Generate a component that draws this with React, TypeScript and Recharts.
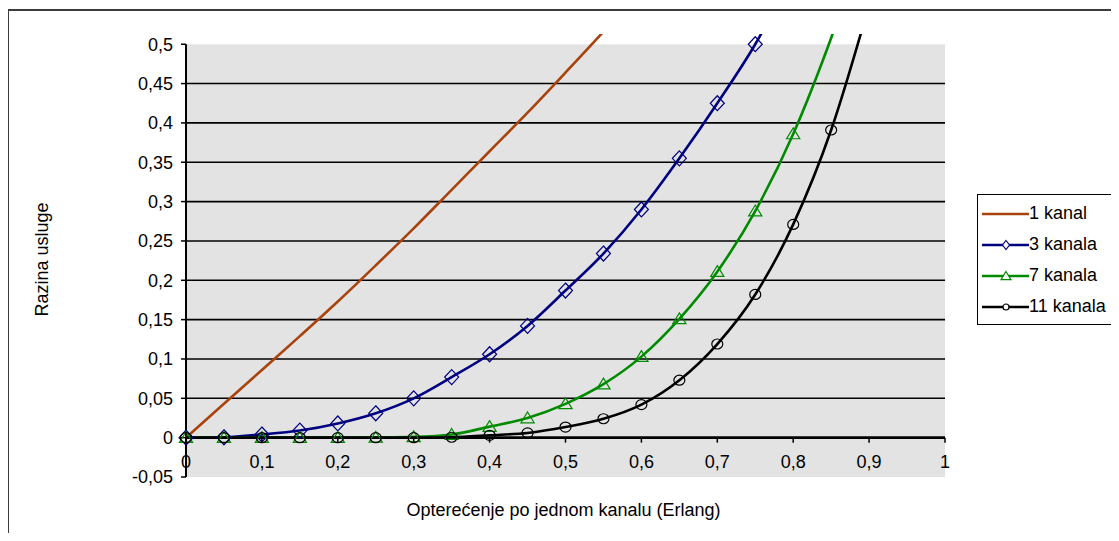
import React from "react";
import { LineChart, Line, XAxis, YAxis, ReferenceArea, ReferenceLine, Legend } from "recharts";

// opterecenje po kanalu (Erlang)
const LOAD = [0, 0.05, 0.1, 0.15, 0.2, 0.25, 0.3, 0.35, 0.4, 0.45, 0.5, 0.55, 0.6, 0.65, 0.7, 0.75, 0.8, 0.85, 0.9, 0.95, 1];

// razina usluge, ocitano sa slike (null = izvan grafa)
const KANAL_1 = [0, 0.043, 0.086, 0.129, 0.173, 0.219, 0.266, 0.315, 0.364, 0.413, 0.464, 0.516, 0.57, null, null, null, null, null, null, null, null];
const KANALA_3 = [0, 0.0005, 0.004, 0.009, 0.018, 0.031, 0.05, 0.077, 0.106, 0.142, 0.187, 0.234, 0.29, 0.355, 0.425, 0.5, 0.59, null, null, null, null];
const KANALA_7 = [0, 0, 0, 0, 0, 0.0003, 0.001, 0.004, 0.014, 0.025, 0.043, 0.068, 0.103, 0.151, 0.211, 0.288, 0.386, 0.508, 0.65, null, null];
const KANALA_11 = [0, 0, 0, 0, 0, 0, 0, 0.0005, 0.003, 0.006, 0.0135, 0.024, 0.042, 0.073, 0.119, 0.182, 0.271, 0.391, 0.55, null, null];

const X_TICKS = [0, 0.1, 0.2, 0.3, 0.4, 0.5, 0.6, 0.7, 0.8, 0.9, 1];
const Y_TICKS = [-0.05, 0, 0.05, 0.1, 0.15, 0.2, 0.25, 0.3, 0.35, 0.4, 0.45, 0.5];
const GRID_Y = [0.05, 0.1, 0.15, 0.2, 0.25, 0.3, 0.35, 0.4, 0.45];

const data = LOAD.map((x, i) => ({
  x,
  k1: KANAL_1[i],
  k3: KANALA_3[i],
  k7: KANALA_7[i],
  k11: KANALA_11[i],
}));

const W = 1119;
const H = 541;
const MARGIN = { top: 34, right: 174, bottom: 4, left: 0 };
const Y_AXIS_W = 186;
const X_AXIS_H = 60;
const Y_MIN = -0.05;
const Y_MAX = 0.513;
const Y_TOP = 0.5; // markeri iznad ovoga se ne crtaju
const PLOT_H = H - MARGIN.top - MARGIN.bottom - X_AXIS_H;
const PX_PER_UNIT = PLOT_H / (Y_MAX - Y_MIN);

const FONT = '"Liberation Sans", Arial, sans-serif';
const fmt = (v: number) => String(v).replace(".", ",");

const BROWN = "#a9430d";
const BLUE = "#000080";
const GREEN = "#008a00";
const BLACK = "#000000";

const diamond = (cx: number, cy: number, rx: number, ry: number) =>
  `${cx},${cy - ry} ${cx + rx},${cy} ${cx},${cy + ry} ${cx - rx},${cy}`;
const triangle = (cx: number, cy: number, r: number) =>
  `${cx},${cy - r} ${cx + r * 1.1},${cy + r * 0.8} ${cx - r * 1.1},${cy + r * 0.8}`;

const hidden = (p: any) => p.cy == null || p.value == null || p.value > Y_TOP;

const DiamondDot = (p: any) =>
  hidden(p) ? <g key={p.key ?? p.index} /> : (
    <polygon key={p.key ?? p.index} points={diamond(p.cx, p.cy, 7, 7.5)} fill="none" stroke={BLUE} strokeWidth={1.2} />
  );
const TriangleDot = (p: any) =>
  hidden(p) ? <g key={p.key ?? p.index} /> : (
    <polygon key={p.key ?? p.index} points={triangle(p.cx, p.cy, 6)} fill="none" stroke={GREEN} strokeWidth={1.2} />
  );
const CircleDot = (p: any) =>
  hidden(p) ? <g key={p.key ?? p.index} /> : (
    <ellipse key={p.key ?? p.index} cx={p.cx} cy={p.cy} rx={5.5} ry={5} fill="none" stroke={BLACK} strokeWidth={1.2} />
  );

const SERIES = [
  { key: "k1", name: "1 kanal", color: BROWN, marker: "none" },
  { key: "k3", name: "3 kanala", color: BLUE, marker: "diamond" },
  { key: "k7", name: "7 kanala", color: GREEN, marker: "triangle" },
  { key: "k11", name: "11 kanala", color: BLACK, marker: "circle" },
];

const XTick = (props: any) => {
  const { x, y, payload } = props;
  const zeroY = y - (0 - Y_MIN) * PX_PER_UNIT;
  return (
    <g>
      <line x1={x} x2={x} y1={zeroY} y2={zeroY + 5} stroke="#000" strokeWidth={1.5} />
      <text x={x} y={zeroY + 24} textAnchor="middle" dominantBaseline="central" fontSize={18} fontFamily={FONT} fill="#000">
        {fmt(payload.value)}
      </text>
    </g>
  );
};

const LegendBox = () => (
  <div
    style={{
      width: 139,
      height: 126,
      border: "1px solid #000",
      background: "#fff",
      paddingTop: 3,
      boxSizing: "content-box",
      fontFamily: FONT,
      fontSize: 18,
    }}
  >
    {SERIES.map((s) => (
      <div key={s.key} style={{ height: 31, display: "flex", alignItems: "center" }}>
        <svg width={52} height={16} style={{ marginLeft: 4 }}>
          <line x1={0} x2={47} y1={8} y2={8} stroke={s.color} strokeWidth={2.5} />
          {s.marker === "diamond" && <polygon points={diamond(24, 8, 3.5, 4.5)} fill="#fff" stroke={s.color} strokeWidth={1.2} />}
          {s.marker === "triangle" && <polygon points={triangle(24, 8, 4.5)} fill="#fff" stroke={s.color} strokeWidth={1.2} />}
          {s.marker === "circle" && <circle cx={24} cy={8} r={3} fill="#fff" stroke={s.color} strokeWidth={1.2} />}
        </svg>
        <span style={{ marginLeft: -5, color: "#000", whiteSpace: "nowrap" }}>{s.name}</span>
      </div>
    ))}
  </div>
);

export default function App() {
  return (
    <div style={{ position: "relative", width: W, height: H, margin: -8, overflow: "hidden", background: "#fff" }}>
      <div
        style={{
          position: "absolute",
          left: 7,
          top: 9,
          width: 1300,
          height: 800,
          border: "2px solid #3c3c3c",
          pointerEvents: "none",
        }}
      />
      <LineChart width={W} height={H} data={data} margin={MARGIN}>
        <XAxis
          dataKey="x"
          type="number"
          domain={[0, 1]}
          ticks={X_TICKS}
          height={X_AXIS_H}
          axisLine={false}
          tickLine={false}
          tickSize={0}
          tickMargin={0}
          tick={<XTick />}
          interval={0}
          label={(p: any) => {
            const vb = p.viewBox;
            return (
              <text
                x={vb.x + vb.width / 2 - 2}
                y={vb.y + 33}
                textAnchor="middle"
                dominantBaseline="central"
                fontSize={18}
                fontFamily={FONT}
                fill="#000"
              >
                Opterećenje po jednom kanalu (Erlang)
              </text>
            );
          }}
        />
        <YAxis
          type="number"
          domain={[Y_MIN, Y_MAX]}
          allowDataOverflow
          ticks={Y_TICKS}
          interval={0}
          width={Y_AXIS_W}
          axisLine={false}
          tickSize={5}
          tickMargin={8}
          tickLine={{ stroke: "#000", strokeWidth: 1.5 }}
          tickFormatter={fmt}
          tick={{ fontSize: 18, fontFamily: FONT, fill: "#000" }}
          label={(p: any) => {
            const vb = p.viewBox;
            const cx = vb.x + 42;
            const cy = vb.y + vb.height / 2 + 4;
            return (
              <text
                x={cx}
                y={cy}
                transform={`rotate(-90, ${cx}, ${cy})`}
                textAnchor="middle"
                dominantBaseline="central"
                fontSize={18}
                fontFamily={FONT}
                fill="#000"
              >
                Razina usluge
              </text>
            );
          }}
        />
        <ReferenceArea x1={0} x2={1} y1={-0.05} y2={0.5} fill="#e3e3e3" fillOpacity={1} stroke="none" />
        {GRID_Y.map((v) => (
          <ReferenceLine key={v} y={v} stroke="#000" strokeWidth={1.6} />
        ))}
        <ReferenceLine y={0} stroke="#000" strokeWidth={2.8} />
        <ReferenceLine
          segment={[
            { x: 0, y: -0.05 },
            { x: 0, y: 0.5 },
          ]}
          stroke="#000"
          strokeWidth={2}
        />
        <Legend
          layout="horizontal"
          align="center"
          verticalAlign="middle"
          content={() => <LegendBox />}
          wrapperStyle={{ left: 977, top: 194, width: 141, height: 130 }}
        />
        <Line dataKey="k1" name="1 kanal" type="monotone" stroke={BROWN} strokeWidth={2.6} dot={false} activeDot={false} isAnimationActive={false} />
        <Line dataKey="k3" name="3 kanala" type="monotone" stroke={BLUE} strokeWidth={2.6} dot={DiamondDot} activeDot={false} isAnimationActive={false} />
        <Line dataKey="k7" name="7 kanala" type="monotone" stroke={GREEN} strokeWidth={2.6} dot={TriangleDot} activeDot={false} isAnimationActive={false} />
        <Line dataKey="k11" name="11 kanala" type="monotone" stroke={BLACK} strokeWidth={2.6} dot={CircleDot} activeDot={false} isAnimationActive={false} />
      </LineChart>
    </div>
  );
}
